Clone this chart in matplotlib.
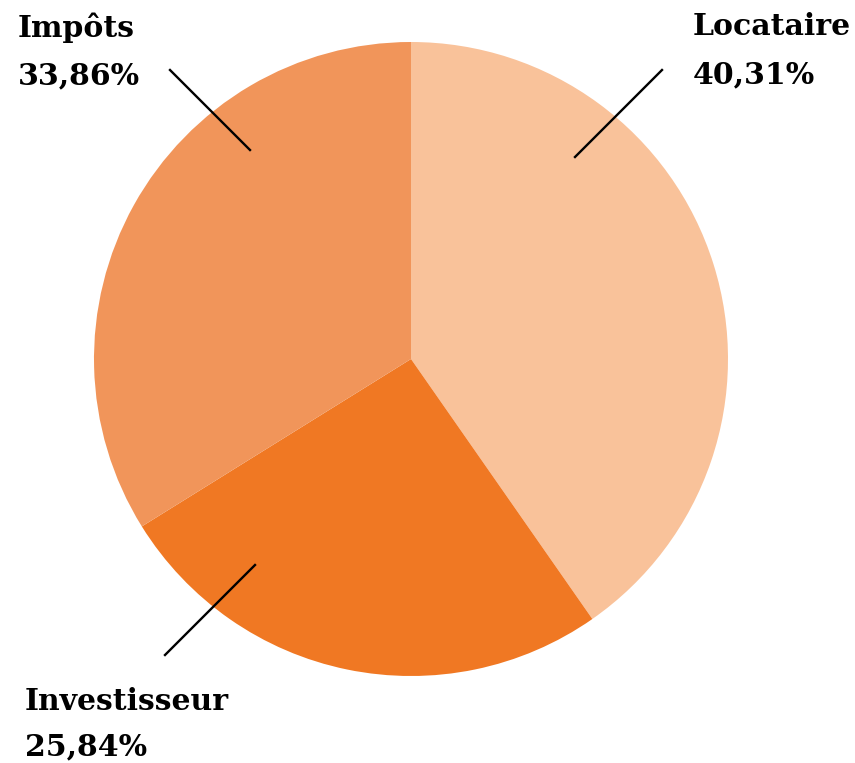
import matplotlib.pyplot as plt

labels = ["Locataire", "Investisseur", "Impôts"]
values = [40.31, 25.84, 33.86]
colors = ["#F9C29A", "#F07823", "#F1955A"]

W, H = 855, 763
fig = plt.figure(figsize=(W / 100, H / 100), dpi=100)
ax = fig.add_axes([0, 0, 1, 1])

# pie in pixel coords (y flipped)
ax.pie(values, colors=colors, startangle=90, counterclock=False,
       center=(411, H - 359), radius=317, frame=True,
       wedgeprops=dict(linewidth=0))
ax.set_xlim(0, W)
ax.set_ylim(0, H)
ax.set_aspect("equal")
ax.axis("off")

# leader lines (pixel coords, top-left origin)
lines = [((575, 157), (662, 70)),
         ((255, 565), (165, 655)),
         ((250, 150), (170, 70))]
for (x0, y0), (x1, y1) in lines:
    ax.plot([x0, x1], [H - y0, H - y1], color="black", lw=1.7)

# label x, baseline of first line, baseline of second line
text_pos = [(693, 35, 83), (25, 710, 755), (18, 37, 84)]
for lab, val, (tx, y1, y2) in zip(labels, values, text_pos):
    pct = ("%.2f" % val).replace(".", ",") + "%"
    for s, ty in [(lab, y1), (pct, y2)]:
        ax.text(tx, H - ty, s, ha="left", va="baseline", fontsize=21.5,
                fontweight="bold", family="DejaVu Serif")

fig.savefig("out.png", dpi=100)
